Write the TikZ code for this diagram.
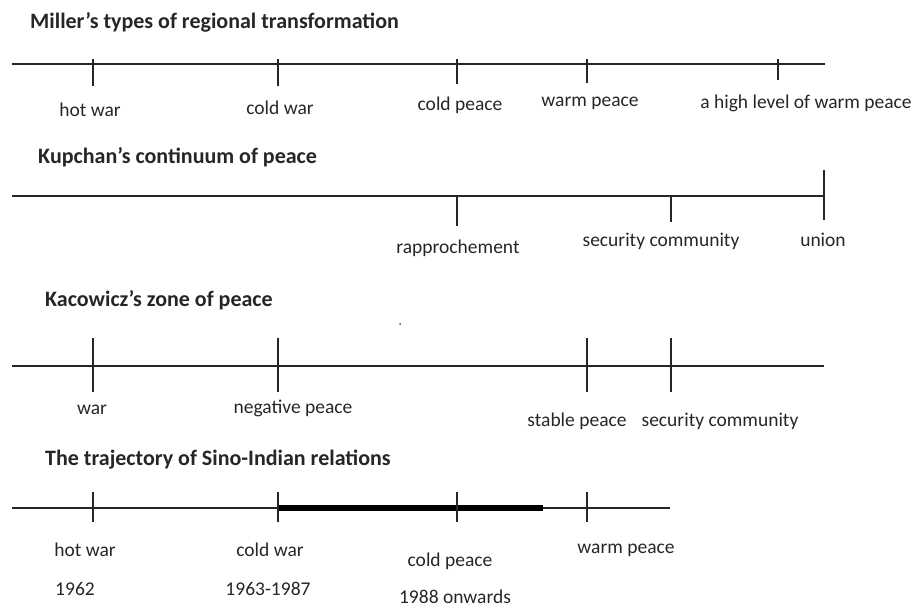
\documentclass[tikz,border=0pt]{standalone}
\usepackage{fontspec}
\setmainfont{Carlito}
\begin{document}
\begin{tikzpicture}[x=1pt,y=-1pt,
  axis/.style={line width=2.2pt,draw=black!85},
  tick/.style={line width=2.2pt,draw=black!85},
  span/.style={line width=5.5pt,draw=black},
  ttl/.style={anchor=west,inner sep=0pt,font=\fontsize{22}{24}\selectfont\bfseries,text=black!85},
  lbl/.style={inner sep=0pt,font=\fontsize{19.5}{22}\selectfont,text=black!85}]
\useasboundingbox (0,0) rectangle (920,608);

% ---- Miller ----
\node[ttl] (t1) at (30,22) {Miller’s types of regional transformation};
\coordinate (a1s) at (12,64); \coordinate (a1e) at (825,64);
\draw[axis] (a1s) -- (a1e);
\foreach \x/\b in {93/86,278/86,457/84,587/83,778/80}
  \draw[tick] (\x,59) -- (\x,\b);
\node[lbl] (m1) at (90,110) {hot war};
\node[lbl] (m2) at (280,108) {cold war};
\node[lbl] (m3) at (460,105) {cold peace};
\node[lbl] (m4) at (590,103) {warm peace};
\node[lbl] (m5) at (806,103) {a high level of warm peace};

% ---- Kupchan ----
\node[ttl] (t2) at (38,157) {Kupchan’s continuum of peace};
\coordinate (a2s) at (12,196); \coordinate (a2e) at (824,196);
\draw[axis] (a2s) -- (a2e);
\draw[tick] (457,196) -- (457,226);
\draw[tick] (671,196) -- (671,222);
\draw[tick] (824,170) -- (824,220);
\node[lbl] (k1) at (458,248) {rapprochement};
\node[lbl] (k2) at (661,241) {security community};
\node[lbl] (k3) at (823,240) {union};

% ---- Kacowicz ----
\node[ttl] (t3) at (45,300) {Kacowicz’s zone of peace};
\coordinate (a3s) at (12,366); \coordinate (a3e) at (824,366);
\draw[axis] (a3s) -- (a3e);
\foreach \x in {93,278,587,671}
  \draw[tick] (\x,338) -- (\x,392);
\fill[black!70] (400,324) circle (1pt);
\node[lbl] (z1) at (92,410) {war};
\node[lbl] (z2) at (293,408) {negative peace};
\node[lbl] (z3) at (577,421) {stable peace};
\node[lbl] (z4) at (720,421) {security community};

% ---- Sino-Indian ----
\node[ttl] (t4) at (45,460) {The trajectory of Sino-Indian relations};
\coordinate (a4s) at (12,508); \coordinate (a4e) at (670,508);
\draw[axis] (a4s) -- (a4e);
\coordinate (s1) at (278,508); \coordinate (s2) at (543,508);
\draw[span] (s1) -- (s2);
\foreach \x in {93,278,457,587}
  \draw[tick] (\x,492) -- (\x,522);
\node[lbl] (s3) at (85,550) {hot war};
\node[lbl] (s4) at (270,550) {cold war};
\node[lbl] (s5) at (450,561) {cold peace};
\node[lbl] (s6) at (626,550) {warm peace};
\node[lbl] (y1) at (75,589) {1962};
\node[lbl] (y2) at (268,589) {1963-1987};
\node[lbl] (y3) at (455,597) {1988 onwards};
\end{tikzpicture}
\end{document}
